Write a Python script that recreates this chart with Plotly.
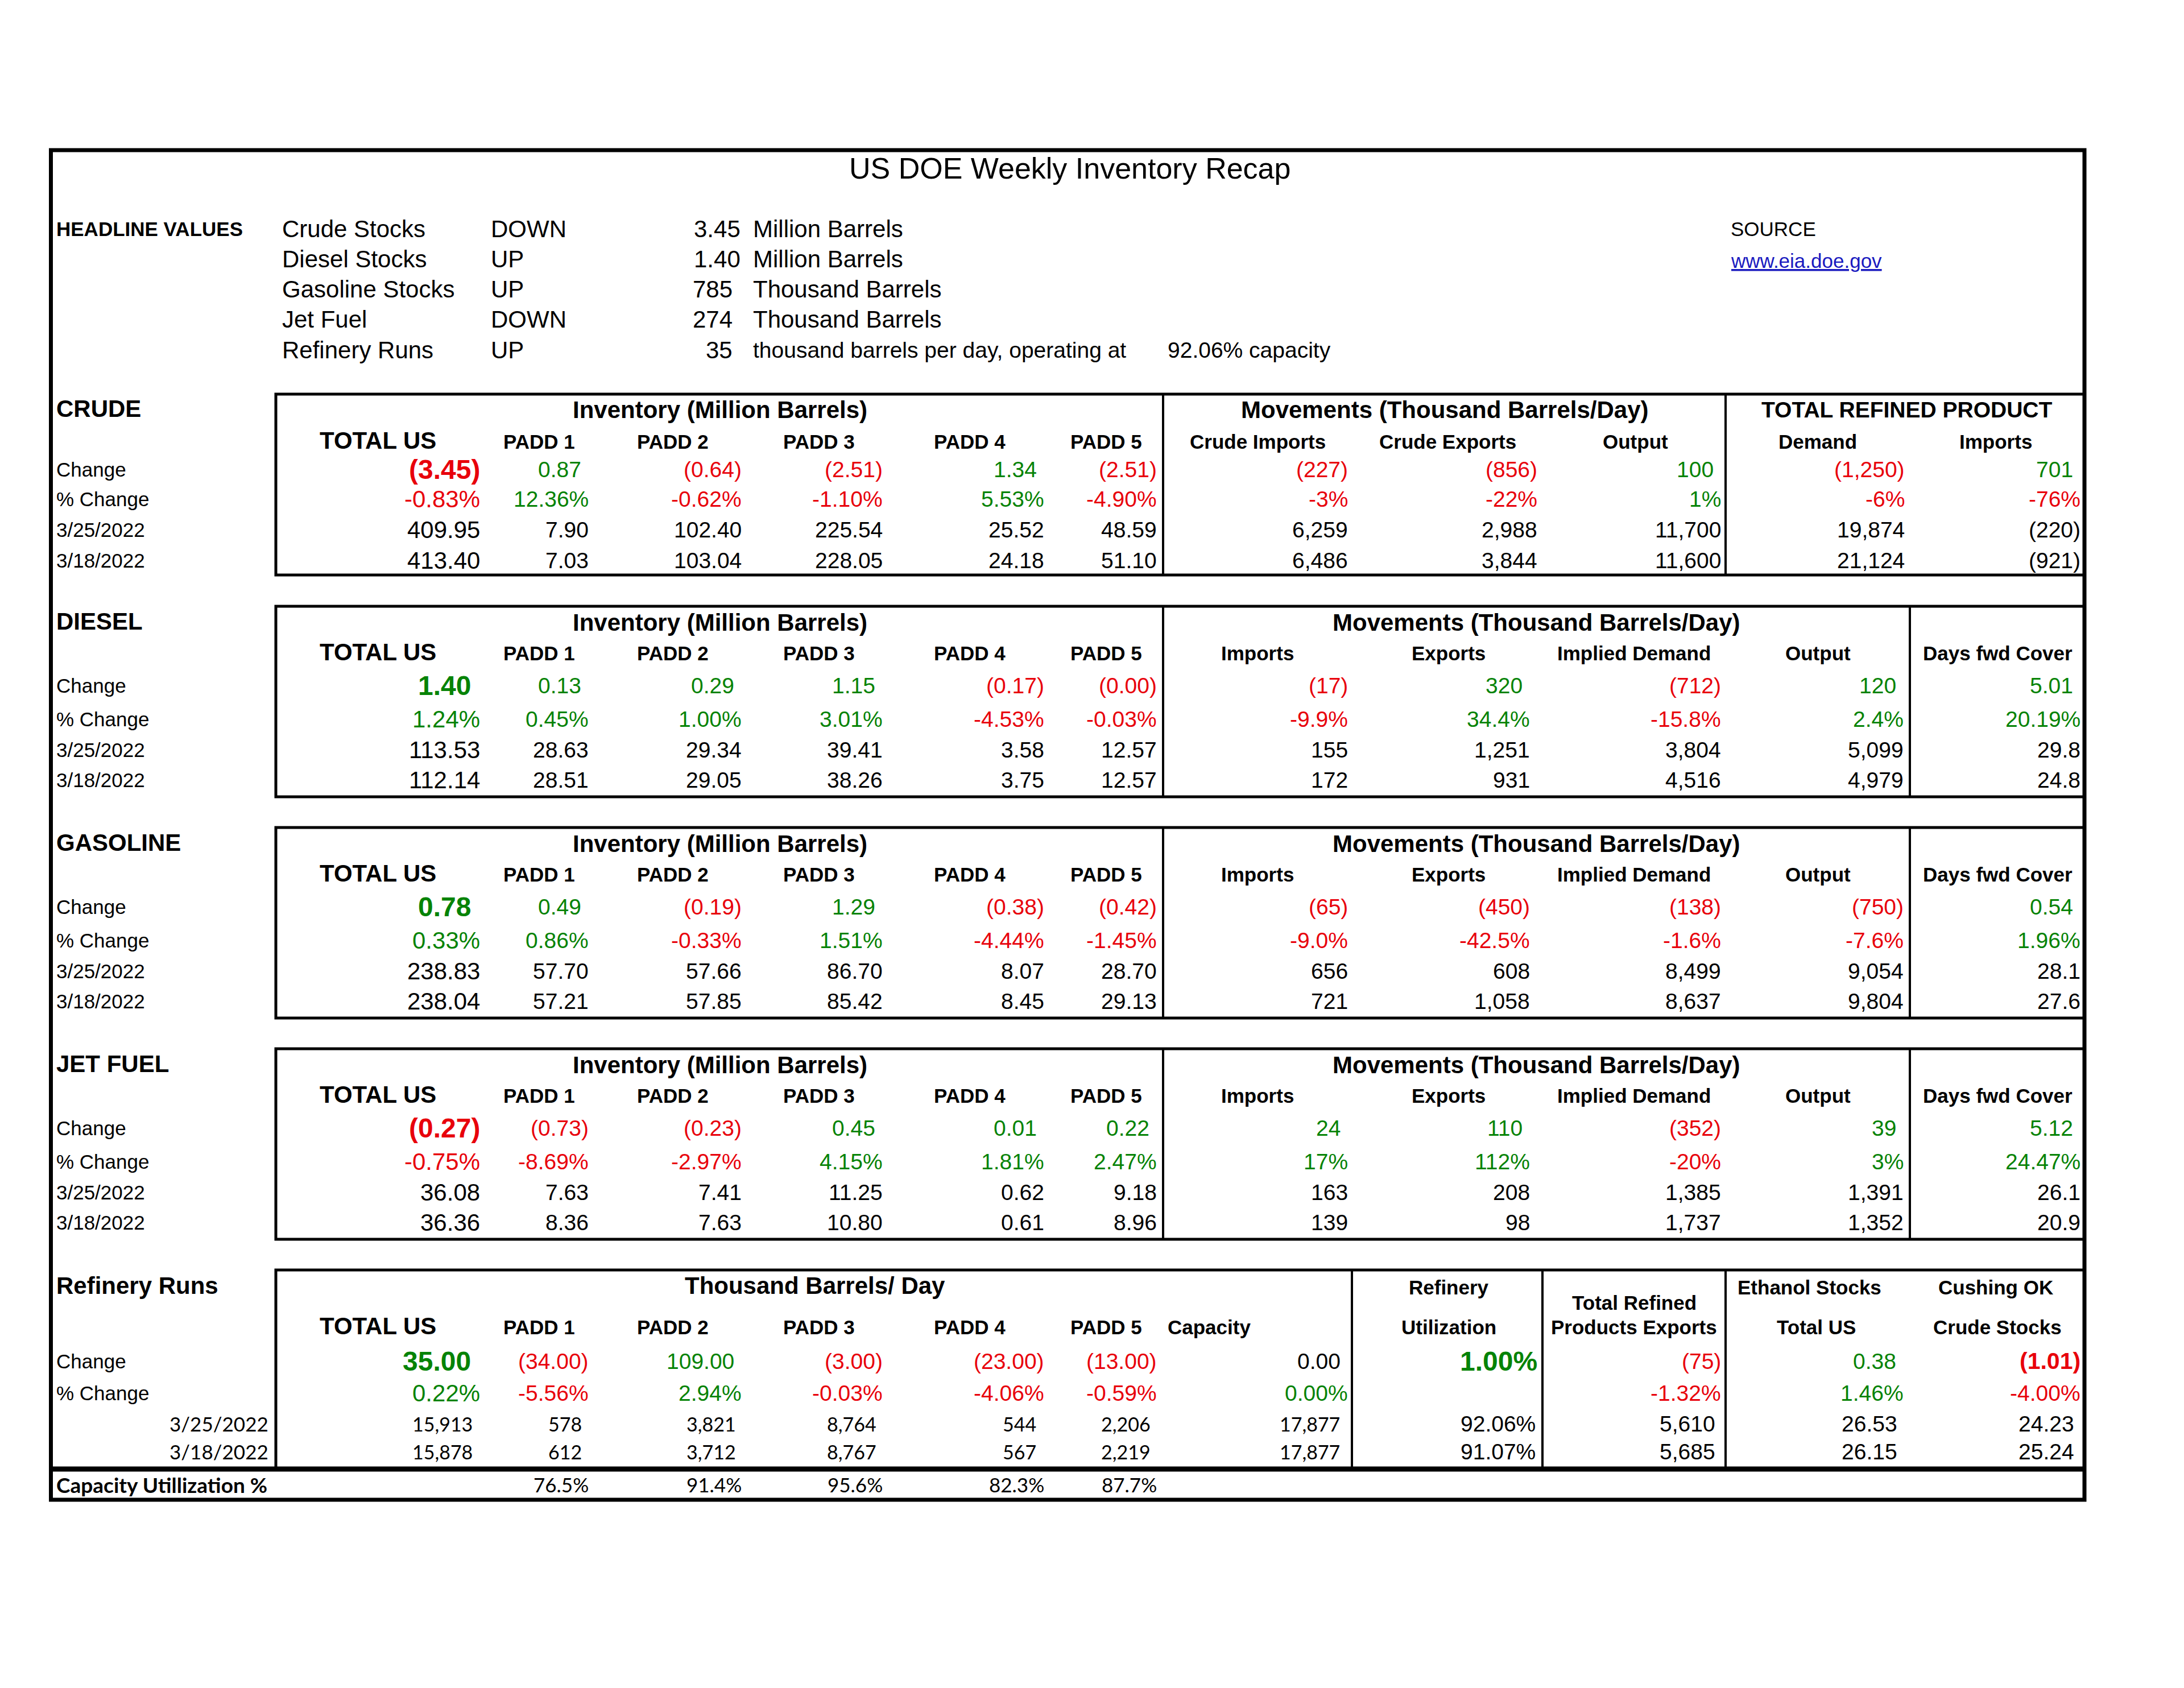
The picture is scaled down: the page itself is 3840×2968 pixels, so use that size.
"""
US DOE weekly inventory recap, drawn as a table with Plotly annotations and shapes.
"""

import plotly.graph_objects as go

# ---------------------------------------------------------------- data
DATES = ["3/25/2022", "3/18/2022"]

HEADLINE_ITEMS = ["Crude Stocks", "Diesel Stocks", "Gasoline Stocks", "Jet Fuel", "Refinery Runs"]
HEADLINE_DIRECTION = ["DOWN", "UP", "UP", "DOWN", "UP"]
HEADLINE_VALUES = ["3.45", "1.40", "785", "274", "35"]
HEADLINE_UNITS = ["Million Barrels", "Million Barrels", "Thousand Barrels",
                  "Thousand Barrels", "thousand barrels per day, operating at"]
HEADLINE_CAPACITY = "92.06% capacity"

PADD_COLS = ["TOTAL US", "PADD 1", "PADD 2", "PADD 3", "PADD 4", "PADD 5"]
CRUDE_MOVE_COLS = ["Crude Imports", "Crude Exports", "Output", "Demand", "Imports"]
PRODUCT_MOVE_COLS = ["Imports", "Exports", "Implied Demand", "Output", "Days fwd Cover"]

CRUDE_CHANGE = ["(3.45)", "0.87", "(0.64)", "(2.51)", "1.34", "(2.51)", "(227)", "(856)", "100", "(1,250)", "701"]
CRUDE_PCT = ["-0.83%", "12.36%", "-0.62%", "-1.10%", "5.53%", "-4.90%", "-3%", "-22%", "1%", "-6%", "-76%"]
CRUDE_CUR = ["409.95", "7.90", "102.40", "225.54", "25.52", "48.59", "6,259", "2,988", "11,700", "19,874", "(220)"]
CRUDE_PREV = ["413.40", "7.03", "103.04", "228.05", "24.18", "51.10", "6,486", "3,844", "11,600", "21,124", "(921)"]

DIESEL_CHANGE = ["1.40", "0.13", "0.29", "1.15", "(0.17)", "(0.00)", "(17)", "320", "(712)", "120", "5.01"]
DIESEL_PCT = ["1.24%", "0.45%", "1.00%", "3.01%", "-4.53%", "-0.03%", "-9.9%", "34.4%", "-15.8%", "2.4%", "20.19%"]
DIESEL_CUR = ["113.53", "28.63", "29.34", "39.41", "3.58", "12.57", "155", "1,251", "3,804", "5,099", "29.8"]
DIESEL_PREV = ["112.14", "28.51", "29.05", "38.26", "3.75", "12.57", "172", "931", "4,516", "4,979", "24.8"]

GASOLINE_CHANGE = ["0.78", "0.49", "(0.19)", "1.29", "(0.38)", "(0.42)", "(65)", "(450)", "(138)", "(750)", "0.54"]
GASOLINE_PCT = ["0.33%", "0.86%", "-0.33%", "1.51%", "-4.44%", "-1.45%", "-9.0%", "-42.5%", "-1.6%", "-7.6%", "1.96%"]
GASOLINE_CUR = ["238.83", "57.70", "57.66", "86.70", "8.07", "28.70", "656", "608", "8,499", "9,054", "28.1"]
GASOLINE_PREV = ["238.04", "57.21", "57.85", "85.42", "8.45", "29.13", "721", "1,058", "8,637", "9,804", "27.6"]

JET_CHANGE = ["(0.27)", "(0.73)", "(0.23)", "0.45", "0.01", "0.22", "24", "110", "(352)", "39", "5.12"]
JET_PCT = ["-0.75%", "-8.69%", "-2.97%", "4.15%", "1.81%", "2.47%", "17%", "112%", "-20%", "3%", "24.47%"]
JET_CUR = ["36.08", "7.63", "7.41", "11.25", "0.62", "9.18", "163", "208", "1,385", "1,391", "26.1"]
JET_PREV = ["36.36", "8.36", "7.63", "10.80", "0.61", "8.96", "139", "98", "1,737", "1,352", "20.9"]

REFINERY_CHANGE = ["35.00", "(34.00)", "109.00", "(3.00)", "(23.00)", "(13.00)", "0.00", "1.00%", "(75)", "0.38", "(1.01)"]
REFINERY_PCT = ["0.22%", "-5.56%", "2.94%", "-0.03%", "-4.06%", "-0.59%", "0.00%", "", "-1.32%", "1.46%", "-4.00%"]
REFINERY_CUR = ["15,913", "578", "3,821", "8,764", "544", "2,206", "17,877", "92.06%", "5,610", "26.53", "24.23"]
REFINERY_PREV = ["15,878", "612", "3,712", "8,767", "567", "2,219", "17,877", "91.07%", "5,685", "26.15", "25.24"]
CAPACITY_UTIL = ["", "76.5%", "91.4%", "95.6%", "82.3%", "87.7%"]

# ---------------------------------------------------------------- style
ARIAL = "Liberation Sans, Arial, sans-serif"
CALIBRI = "Lato, Carlito, Calibri, sans-serif"
RED = "#E8000B"
GREEN = "#068306"
BLACK = "#000000"
LINK = "#1A1ABF"
PAD = '<span style="color:#ffffff">)</span>'   # accounting-format spacer

# page coordinates (screen pixels); the html body has an 8px margin
PAGE_W, PAGE_H, BODY = 3840, 2968, 8
LEFT = 98
BOX_L, BOX_R = 485, 3665
COL_RIGHT = [845, 1036, 1305, 1553, 1837, 2035]
PADD_HDR_X = [664, 948, 1183, 1440, 1705, 1945]

fig = go.Figure()


def put(x, y, text, size, color=BLACK, bold=False, align="left", family=ARIAL):
    if bold:
        text = f"<b>{text}</b>"
    fig.add_annotation(x=x, y=y, xref="x", yref="y", text=text, showarrow=False,
                       xanchor=align, yanchor="middle", borderpad=0,
                       font=dict(family=family, size=size, color=color))


def box(x0, y0, x1, y1, width):
    fig.add_shape(type="rect", xref="x", yref="y", x0=x0, y0=y0, x1=x1, y1=y1,
                  line=dict(color=BLACK, width=width), fillcolor="rgba(0,0,0,0)")


def vline(x, y0, y1, width=4):
    fig.add_shape(type="line", xref="x", yref="y", x0=x, x1=x, y0=y0, y1=y1,
                  line=dict(color=BLACK, width=width))


def sign_color(s):
    return RED if s.startswith(("(", "-")) else GREEN


def change_text(s):
    # positive accounting numbers keep room for the closing parenthesis
    if s and not s.endswith((")", "%")):
        return s + PAD
    return s


def value_rows(rows_y, change, pct, cur, prev, rights, total_size=42, size=39):
    for i, x in enumerate(rights):
        big = i == 0
        put(x, rows_y[0], change_text(change[i]), 48 if big else size,
            color=sign_color(change[i]), bold=big, align="right")
        put(x, rows_y[1], pct[i], total_size if big else size,
            color=sign_color(pct[i]), align="right")
        put(x, rows_y[2], cur[i], total_size if big else size, align="right")
        put(x, rows_y[3], prev[i], total_size if big else size, align="right")


def stock_section(title, top, bottom, title_y, hdr_y, rows_y, groups, move_cols,
                  move_hdr_x, move_right, dividers, change, pct, cur, prev):
    box(BOX_L, top, BOX_R, bottom, 5)
    for x in dividers:
        vline(x, top, bottom)
    put(LEFT, title_y, title, 42, bold=True)
    for text, x, size in groups:
        put(x, title_y + 2, text, size, bold=True, align="center")
    for i, (name, x) in enumerate(zip(PADD_COLS, PADD_HDR_X)):
        put(x, hdr_y - (2 if i == 0 else 0), name, 42 if i == 0 else 35, bold=True, align="center")
    for name, x in zip(move_cols, move_hdr_x):
        put(x, hdr_y, name, 35, bold=True, align="center")
    for label, y in zip(["Change", "% Change"] + DATES, rows_y):
        put(LEFT, y, label, 35)
    value_rows(rows_y, change, pct, cur, prev, COL_RIGHT + move_right)


# ---------------------------------------------------------------- frame + headline
box(89.5, 264, BOX_R, 2637, 7)
put(1881, 296, "US DOE Weekly Inventory Recap", 52, align="center")

put(LEFT, 402, "HEADLINE VALUES", 35, bold=True)
for i, item in enumerate(HEADLINE_ITEMS):
    y = 402 + i * 53.3
    put(495, y, item, 42)
    put(862, y, HEADLINE_DIRECTION[i], 42)
    val = HEADLINE_VALUES[i] if "." in HEADLINE_VALUES[i] else HEADLINE_VALUES[i] + PAD
    put(1303, y, val, 42, align="right")
    put(1323, y, HEADLINE_UNITS[i], 42 if i < 4 else 39)
put(2052, 402 + 4 * 53.3, HEADLINE_CAPACITY, 39)
put(3042, 402, "SOURCE", 35)
put(3042, 458, "<u>www.eia.doe.gov</u>", 35, color=LINK)

# ---------------------------------------------------------------- stock sections
MOVE_HDR_X = [2211, 2547, 2873, 3196, 3512]
MOVE_RIGHT_PROD = [2371, 2691, 3027, 3348, 3659]

stock_section(
    "CRUDE", 693, 1011, 718, 776, [825, 877, 931, 985],
    [("Inventory (Million Barrels)", 1266, 42),
     ("Movements (Thousand Barrels/Day)", 2540, 42),
     ("TOTAL REFINED PRODUCT", 3353, 39)],
    CRUDE_MOVE_COLS, [2211, 2545, 2875, 3196, 3509], [2371, 2704, 3027, 3350, 3659],
    [2045, 3034], CRUDE_CHANGE, CRUDE_PCT, CRUDE_CUR, CRUDE_PREV)

for k, (name, ch, pc, cu, pr) in enumerate([
        ("DIESEL", DIESEL_CHANGE, DIESEL_PCT, DIESEL_CUR, DIESEL_PREV),
        ("GASOLINE", GASOLINE_CHANGE, GASOLINE_PCT, GASOLINE_CUR, GASOLINE_PREV),
        ("JET FUEL", JET_CHANGE, JET_PCT, JET_CUR, JET_PREV)]):
    off = 389 * k
    stock_section(
        name, 1066 + off, 1401 + off, 1092 + off, 1148 + off,
        [1205 + off, 1264 + off, 1318 + off, 1371 + off],
        [("Inventory (Million Barrels)", 1266, 42),
         ("Movements (Thousand Barrels/Day)", 2701, 42)],
        PRODUCT_MOVE_COLS, MOVE_HDR_X, MOVE_RIGHT_PROD, [2045, 3358], ch, pc, cu, pr)

# ---------------------------------------------------------------- refinery runs
REF_TOP, REF_BOTTOM = 2233, 2583
REF_ROWS = [2393, 2449, 2503, 2552]
REF_RIGHT = COL_RIGHT + [2371, 2704, 3027, 3348, 3659]
REF_DATE_RIGHT = [832, 1024, 1295, 1542, 1823, 2024, 2357, 2701, 3017, 3337, 3648]

box(BOX_L, REF_TOP, BOX_R, REF_BOTTOM, 5)
for x in [2377, 2712, 3034]:
    vline(x, REF_TOP, REF_BOTTOM)
fig.add_shape(type="line", xref="x", yref="y", x0=89.5, x1=BOX_R, y0=2583, y1=2583,
              line=dict(color=BLACK, width=9))

put(LEFT, 2260, "Refinery Runs", 42, bold=True)
put(1433, 2260, "Thousand Barrels/ Day", 42, bold=True, align="center")
for i, (name, x) in enumerate(zip(PADD_COLS, PADD_HDR_X)):
    put(x, 2333 - (2 if i == 0 else 0), name, 42 if i == 0 else 35, bold=True, align="center")
put(2126, 2333, "Capacity", 35, bold=True, align="center")
for text, x, y in [("Refinery", 2547, 2263), ("Utilization", 2547, 2333),
                   ("Total Refined", 2873, 2290), ("Products Exports", 2873, 2333),
                   ("Ethanol Stocks", 3181, 2263), ("Total US", 3193, 2333),
                   ("Cushing OK", 3509, 2263), ("Crude Stocks", 3512, 2333)]:
    put(x, y, text, 35, bold=True, align="center")

put(LEFT, REF_ROWS[0], "Change", 35)
put(LEFT, REF_ROWS[1], "% Change", 35)
for d, y in zip(DATES, REF_ROWS[2:]):
    put(473, y, d, 35, align="right", family=CALIBRI)

for i, x in enumerate(REF_RIGHT):
    ch = REFINERY_CHANGE[i]
    bold = i in (0, 7, 10)
    size = 48 if i in (0, 7) else (41 if i == 10 else 39)
    color = BLACK if i == 6 else sign_color(ch)
    put(x, REF_ROWS[0], change_text(ch), size, color=color, bold=bold, align="right")
    pc = REFINERY_PCT[i]
    if pc:
        put(x, REF_ROWS[1], pc, 42 if i == 0 else 39, color=sign_color(pc), align="right")
    for row, vals in zip(REF_ROWS[2:], [REFINERY_CUR, REFINERY_PREV]):
        fam = CALIBRI if i < 7 else ARIAL
        put(REF_DATE_RIGHT[i], row, vals[i], 34 if i < 7 else 39, align="right", family=fam)

put(LEFT, 2610, "Capacity Utillization %", 37, bold=True, family=CALIBRI)
for i, v in enumerate(CAPACITY_UTIL):
    if v:
        put(COL_RIGHT[i], 2610, v, 35, align="right", family=CALIBRI)

# ---------------------------------------------------------------- layout
fig.update_layout(
    width=PAGE_W - 2 * BODY,
    height=PAGE_H - 2 * BODY,
    margin=dict(l=0, r=0, t=0, b=0),
    paper_bgcolor="white",
    plot_bgcolor="white",
    showlegend=False,
    xaxis=dict(range=[BODY, PAGE_W - BODY], visible=False, fixedrange=True),
    yaxis=dict(range=[PAGE_H - BODY, BODY], visible=False, fixedrange=True),
)

fig.write_html("out.html", config={"displayModeBar": False, "staticPlot": True})
